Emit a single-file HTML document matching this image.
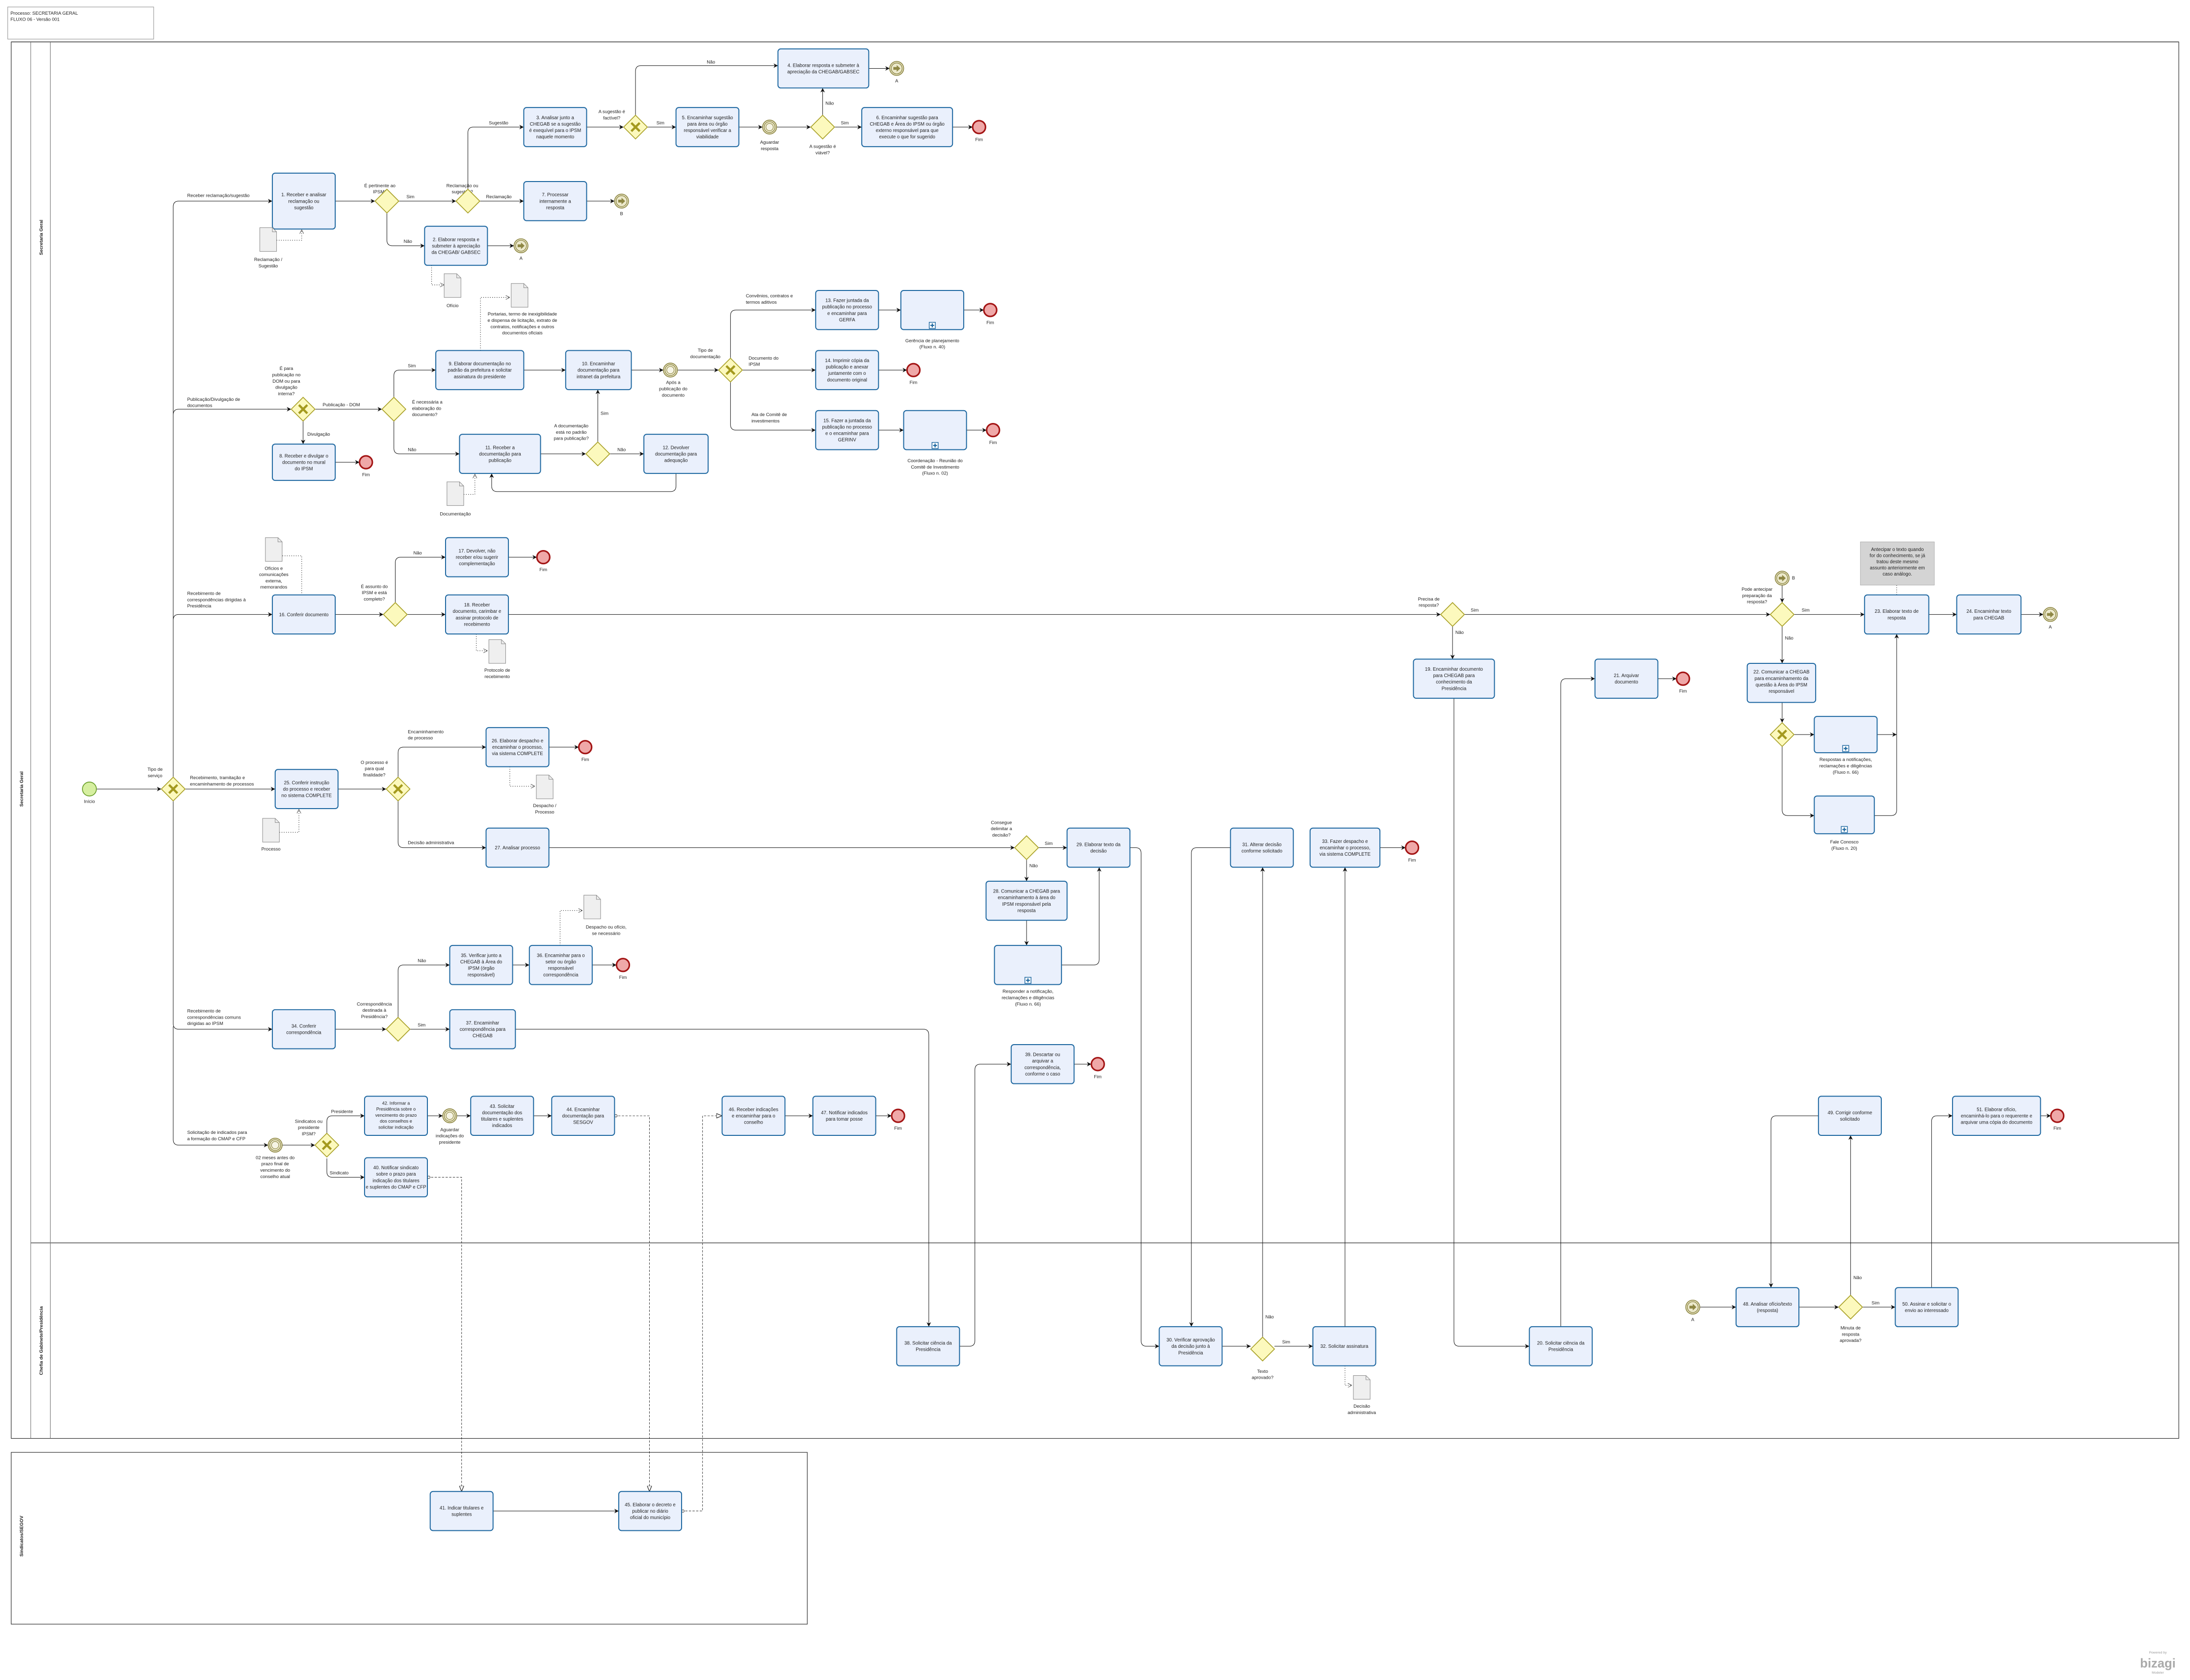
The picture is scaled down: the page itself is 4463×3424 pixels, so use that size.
<!DOCTYPE html>
<html><head><meta charset="utf-8">
<style>
html,body{margin:0;padding:0;background:#fff;}
svg{display:block;}
text{font-family:"Liberation Sans Narrow","Liberation Sans",sans-serif;fill:#222;}
.t{font-size:3.4px;text-anchor:middle;}
.l{font-size:3.3px;}
.lc{font-size:3.3px;text-anchor:middle;}
.task{fill:#eaf0fc;stroke:#1d67a0;stroke-width:0.7;}
.f{fill:none;stroke:#111;stroke-width:0.35;marker-end:url(#a);}
.m{fill:none;stroke:#111;stroke-width:0.3;stroke-dasharray:1.6,1;marker-end:url(#o);}
.as{fill:none;stroke:#222;stroke-width:0.4;stroke-dasharray:0.5,1.1;}
.gw{fill:#fcf9bd;stroke:#aaa22a;stroke-width:0.6;}
.gx{stroke:#a49a1e;stroke-width:1.6;}
.end{fill:#efa8a8;stroke:#a31414;stroke-width:1.1;}
.int{fill:#ece9cc;stroke:#8e8744;stroke-width:0.6;}
.doc{fill:#efefef;stroke:#888;stroke-width:0.35;}
.lane{fill:none;stroke:#222;stroke-width:0.4;}
</style></head>
<body>
<svg width="4463" height="3424" viewBox="0 0 1568 1203" xmlns="http://www.w3.org/2000/svg">
<defs>
<marker id="a" viewBox="0 0 10 10" refX="10" refY="5" markerWidth="3.2" markerHeight="3.2" markerUnits="userSpaceOnUse" orient="auto"><path d="M0,0 L10,5 L0,10 L3,5z" fill="#111"/></marker>
<marker id="o" viewBox="0 0 10 10" refX="10" refY="5" markerWidth="4" markerHeight="4" markerUnits="userSpaceOnUse" orient="auto"><path d="M0,1 L10,5 L0,9z" fill="#fff" stroke="#111" stroke-width="1"/></marker>
<marker id="v" viewBox="0 0 10 10" refX="10" refY="5" markerWidth="3" markerHeight="3" markerUnits="userSpaceOnUse" orient="auto"><path d="M0,0 L10,5 L0,10" fill="none" stroke="#333" stroke-width="1"/></marker>
<g id="gwd"><polygon points="0,-8.5 8.5,0 0,8.5 -8.5,0" class="gw"/></g>
<g id="gwx"><polygon points="0,-8.5 8.5,0 0,8.5 -8.5,0" class="gw"/><path d="M-3,-3 L3,3 M3,-3 L-3,3" class="gx"/></g>
<g id="fim"><circle r="4.6" class="end"/></g>
<g id="lnk"><circle r="5" class="int"/><circle r="3.9" fill="none" stroke="#8e8744" stroke-width="0.5"/><path d="M-2.4,-1 H0 V-2.4 L2.6,0 L0,2.4 V1 H-2.4z" fill="#8e8744"/></g>
<g id="tmr"><circle r="5" class="int"/><circle r="3.9" fill="none" stroke="#8e8744" stroke-width="0.5"/><circle r="2.6" fill="#f6f4e4" stroke="#8e8744" stroke-width="0.4"/></g>
<g id="dc"><path d="M0,0 H9 L12,3 V17 H0z" class="doc"/><path d="M9,0 V3 H12" fill="none" stroke="#888" stroke-width="0.35"/></g>
<g id="plus"><rect x="-2.2" y="-2.2" width="4.4" height="4.4" fill="#fff" stroke="#1d67a0" stroke-width="0.5"/><path d="M-1.4,0 H1.4 M0,-1.4 V1.4" stroke="#1d67a0" stroke-width="0.8"/></g>
</defs>

<!-- header -->
<rect x="5.5" y="5" width="104.5" height="23" fill="#fff" stroke="#999" stroke-width="0.4"/>
<text class="l" x="7.5" y="10.5">Processo: SECRETARIA GERAL</text>
<text class="l" x="7.5" y="15">FLUXO 06 - Versão 001</text>

<!-- pool 1 -->
<rect x="8" y="30" width="1552" height="1000" class="lane"/>
<line x1="8" y1="30" x2="1560" y2="30" stroke="#666" stroke-width="0.7"/>
<line x1="22" y1="30" x2="22" y2="1030" stroke="#666" stroke-width="0.35"/>
<line x1="36" y1="30" x2="36" y2="1030" stroke="#666" stroke-width="0.35"/>
<line x1="22" y1="890" x2="1560" y2="890" stroke="#777" stroke-width="0.7"/>
<text class="l" font-weight="bold" transform="translate(16.5,565) rotate(-90)" text-anchor="middle">Secretaria Geral</text>
<text class="l" font-weight="bold" transform="translate(30.5,170) rotate(-90)" text-anchor="middle">Secretaria Geral</text>
<text class="l" font-weight="bold" transform="translate(30.5,960) rotate(-90)" text-anchor="middle">Chefia de Gabinete/Presidência</text>
<!-- pool 2 -->
<rect x="8" y="1040" width="570" height="123" class="lane"/>
<text class="l" font-weight="bold" transform="translate(16.5,1100) rotate(-90)" text-anchor="middle">Sindicatos/SEGOV</text>

<!-- ========== FLOWS ========== -->
<!-- start -->
<path class="f" d="M69,565 H115.5"/>
<path class="f" d="M124,556.5 V148 Q124,144 128,144 H195"/>
<text class="l" x="134" y="141">Receber reclamação/sugestão</text>
<path class="f" d="M124,297 Q124,293 128,293 H208.5"/>
<text class="l" x="134" y="287">Publicação/Divulgação de</text><text class="l" x="134" y="291.5">documentos</text>
<path class="f" d="M124,444 Q124,440 128,440 H195"/>
<text class="l" x="134" y="426">Recebimento de</text><text class="l" x="134" y="430.5">correspondências dirigidas à</text><text class="l" x="134" y="435">Presidência</text>
<path class="f" d="M132.5,565 H197"/>
<text class="l" x="136" y="558">Recebimento, tramitação e</text><text class="l" x="136" y="562.5">encaminhamento de processos</text>
<text class="lc" x="111" y="552">Tipo de</text><text class="lc" x="111" y="556.5">serviço</text>
<path class="f" d="M124,573.5 V733 Q124,737 128,737 H195"/>
<text class="l" x="134" y="725">Recebimento de</text><text class="l" x="134" y="729.5">correspondências comuns</text><text class="l" x="134" y="734">dirigidas ao IPSM</text>
<path class="f" d="M124,735 V816 Q124,820 128,820 H192"/>
<text class="l" x="134" y="812">Solicitação de indicados para</text><text class="l" x="134" y="816.5">a formação do CMAP e CFP</text>

<!-- section 1 -->
<path class="f" d="M240,144 H268.5"/>
<text class="lc" x="272" y="134">É pertinente ao</text><text class="lc" x="272" y="138.5">IPSM?</text>
<path class="f" d="M285.5,144 H326.5"/><text class="l" x="291" y="142">Sim</text>
<path class="f" d="M277,152.5 V172 Q277,176 281,176 H304"/><text class="l" x="289" y="174">Não</text>
<text class="lc" x="331" y="134">Reclamação ou</text><text class="lc" x="331" y="138.5">sugestão?</text>
<path class="f" d="M335,135.5 V95 Q335,91 339,91 H375"/><text class="l" x="350" y="89">Sugestão</text>
<path class="f" d="M343.5,144 H375"/><text class="l" x="348" y="142">Reclamação</text>
<path class="f" d="M420,91 H446.5"/>
<text class="lc" x="438" y="81">A sugestão é</text><text class="lc" x="438" y="85.5">factível?</text>
<path class="f" d="M455,82.5 V51 Q455,47 459,47 H557"/><text class="l" x="506" y="45.5">Não</text>
<path class="f" d="M463.5,91 H484"/><text class="l" x="470" y="89">Sim</text>
<path class="f" d="M529,91 H546"/>
<path class="f" d="M556,91 H580.5"/>
<text class="lc" x="551" y="103">Aguardar</text><text class="lc" x="551" y="107.5">resposta</text>
<path class="f" d="M589,82.5 V63"/><text class="l" x="591" y="75">Não</text>
<text class="lc" x="589" y="106">A sugestão é</text><text class="lc" x="589" y="110.5">viável?</text>
<path class="f" d="M597.5,91 H617"/><text class="l" x="602" y="89">Sim</text>
<path class="f" d="M682,91 H696.4"/>
<path class="f" d="M622,49 H637"/>
<path class="f" d="M420,144 H440"/>
<path class="f" d="M349,176 H368"/>
<path class="as" d="M198,172 H216 V164.5" marker-end="url(#v)"/>
<path class="as" d="M309,190 V204 H318" marker-end="url(#v)"/>

<!-- section 2: publication -->
<text class="lc" x="205" y="265">É para</text><text class="lc" x="205" y="269.5">publicação no</text><text class="lc" x="205" y="274">DOM ou para</text><text class="lc" x="205" y="278.5">divulgação</text><text class="lc" x="205" y="283">interna?</text>
<path class="f" d="M225.5,293 H273.5"/><text class="l" x="231" y="291">Publicação - DOM</text>
<path class="f" d="M217,301.5 V318"/><text class="l" x="220" y="312">Divulgação</text>
<path class="f" d="M240,331 H257.4"/>
<path class="f" d="M282,284.5 V269 Q282,265 286,265 H312"/><text class="l" x="292" y="263">Sim</text>
<path class="f" d="M282,301.5 V321 Q282,325 286,325 H329"/><text class="l" x="292" y="323">Não</text>
<text class="l" x="295" y="289">É necessária a</text><text class="l" x="295" y="293.5">elaboração do</text><text class="l" x="295" y="298">documento?</text>
<path class="f" d="M375,265 H405"/>
<path class="f" d="M452,265 H475"/>
<path class="f" d="M485,265 H514.5"/>
<text class="lc" x="482" y="275">Após a</text><text class="lc" x="482" y="279.5">publicação do</text><text class="lc" x="482" y="284">documento</text>
<path class="f" d="M387,325 H419.5"/>
<text class="lc" x="409" y="306">A documentação</text><text class="lc" x="409" y="310.5">está no padrão</text><text class="lc" x="409" y="315">para publicação?</text>
<path class="f" d="M428,316.5 V279"/><text class="l" x="430" y="297">Sim</text>
<path class="f" d="M436.5,325 H461"/><text class="l" x="442" y="323">Não</text>
<path class="f" d="M484,339 V348 Q484,352 480,352 H356 Q352,352 352,348 V339"/>
<text class="lc" x="505" y="252">Tipo de</text><text class="lc" x="505" y="256.5">documentação</text>
<path class="f" d="M523,256.5 V226 Q523,222 527,222 H584"/><text class="l" x="534" y="213">Convênios, contratos e</text><text class="l" x="534" y="217.5">termos aditivos</text>
<path class="f" d="M531.5,265 H584"/><text class="l" x="536" y="257.5">Documento do</text><text class="l" x="536" y="262">IPSM</text>
<path class="f" d="M523,273.5 V304 Q523,308 527,308 H584"/><text class="l" x="538" y="298">Ata de Comitê de</text><text class="l" x="538" y="302.5">investimentos</text>
<path class="f" d="M629,222 H645"/><path class="f" d="M690,222 H704.4"/>
<path class="f" d="M629,265 H649.4"/>
<path class="f" d="M629,308 H647"/><path class="f" d="M692,308 H706.4"/>
<path class="as" d="M344,251 V213 H365" marker-end="url(#v)"/>
<path class="as" d="M332,354 H340 V339.5" marker-end="url(#v)"/>

<!-- section 3: correspondence to presidency -->
<path class="f" d="M240,440 H274.5"/>
<text class="lc" x="268" y="421">É assunto do</text><text class="lc" x="268" y="425.5">IPSM e está</text><text class="lc" x="268" y="430">completo?</text>
<path class="f" d="M283,431.5 V403 Q283,399 287,399 H319"/><text class="l" x="296" y="397">Não</text>
<path class="f" d="M364,399 H384.4"/>
<path class="f" d="M291.5,440 H319"/>
<path class="f" d="M364,440 H1031.5"/>
<text class="lc" x="1023" y="430">Precisa de</text><text class="lc" x="1023" y="434.5">resposta?</text>
<path class="f" d="M1048.5,440 H1267.5"/><text class="l" x="1053" y="438">Sim</text>
<path class="f" d="M1040,448.5 V472"/><text class="l" x="1042" y="454">Não</text>
<path class="f" d="M1041,500 V960 Q1041,964 1045,964 H1095"/>
<path class="f" d="M1117.5,950 V490 Q1117.5,486 1121.5,486 H1142"/>
<path class="f" d="M1187,486 H1200.4"/>
<path class="f" d="M1276,419 V431.5"/>
<text class="lc" x="1258" y="423">Pode antecipar</text><text class="lc" x="1258" y="427.5">preparação da</text><text class="lc" x="1258" y="432">resposta?</text>
<path class="f" d="M1284.5,440 H1335"/><text class="l" x="1290" y="438">Sim</text>
<path class="f" d="M1276,448.5 V475"/><text class="l" x="1278" y="458">Não</text>
<path class="f" d="M1381,440 H1401"/>
<path class="f" d="M1447,440 H1463"/>
<path class="f" d="M1276,503 V517.5"/>
<path class="f" d="M1284.5,526 H1299"/>
<path class="f" d="M1276,534.5 V580 Q1276,584 1280,584 H1299"/>
<path class="f" d="M1344,526 H1358"/>
<path class="f" d="M1342,584 H1354 Q1358,584 1358,580 V454"/>
<path class="as" d="M1358,419 V426"/>
<path class="as" d="M201,388 V398 H216 V426"/>
<path class="as" d="M341,454 V466 H349" marker-end="url(#v)"/>

<!-- section 4: processes -->
<path class="f" d="M242,565 H276.5"/>
<text class="lc" x="268" y="547">O processo é</text><text class="lc" x="268" y="551.5">para qual</text><text class="lc" x="268" y="556">finalidade?</text>
<path class="f" d="M285,556.5 V539 Q285,535 289,535 H348"/><text class="l" x="292" y="525">Encaminhamento</text><text class="l" x="292" y="529.5">de processo</text>
<path class="f" d="M393,535 H414.4"/>
<path class="f" d="M285,573.5 V603 Q285,607 289,607 H348"/><text class="l" x="292" y="604.5">Decisão administrativa</text>
<path class="f" d="M393,607 H726.5"/>
<text class="lc" x="717" y="590">Consegue</text><text class="lc" x="717" y="594.5">delimitar a</text><text class="lc" x="717" y="599">decisão?</text>
<path class="f" d="M743.5,607 H764"/><text class="l" x="748" y="605">Sim</text>
<path class="f" d="M735,615.5 V631"/><text class="l" x="737" y="621">Não</text>
<path class="f" d="M735,659 V677"/>
<path class="f" d="M760,691 H783 Q787,691 787,687 V621"/>
<path class="f" d="M809,607 H813 Q817,607 817,611 V960 Q817,964 821,964 H830"/>
<path class="f" d="M875,964 H895.5"/>
<text class="lc" x="904" y="983">Texto</text><text class="lc" x="904" y="987.5">aprovado?</text>
<path class="f" d="M904,957.5 V621"/><text class="l" x="906" y="944">Não</text>
<path class="f" d="M881,607 H857 Q853,607 853,611 V950"/>
<path class="f" d="M912.5,964 H940"/><text class="l" x="918" y="962">Sim</text>
<path class="f" d="M963,950 V621"/>
<path class="f" d="M988,607 H1006.4"/>
<path class="as" d="M963,978 V992 H968" marker-end="url(#v)"/>
<path class="as" d="M365,549 V563 H383" marker-end="url(#v)"/>
<path class="as" d="M200,596 H214 V579.5" marker-end="url(#v)"/>

<!-- section 5: common correspondence -->
<path class="f" d="M240,737 H276.5"/>
<text class="lc" x="268" y="720">Correspondência</text><text class="lc" x="268" y="724.5">destinada à</text><text class="lc" x="268" y="729">Presidência?</text>
<path class="f" d="M285,728.5 V695 Q285,691 289,691 H322"/><text class="l" x="299" y="689">Não</text>
<path class="f" d="M367,691 H379"/>
<path class="f" d="M424,691 H441.4"/>
<path class="as" d="M401,677 V652 H417" marker-end="url(#v)"/>
<path class="f" d="M293.5,737 H322"/><text class="l" x="299" y="735">Sim</text>
<path class="f" d="M369,737 H661 Q665,737 665,741 V950"/>
<path class="f" d="M687,964 H694 Q698,964 698,960 V766 Q698,762 702,762 H724"/>
<path class="f" d="M769,762 H781.4"/>

<!-- section 6: indicados -->
<path class="f" d="M202,820 H225.5"/>
<text class="lc" x="197" y="830">02 meses antes do</text><text class="lc" x="197" y="834.5">prazo final de</text><text class="lc" x="197" y="839">vencimento do</text><text class="lc" x="197" y="843.5">conselho atual</text>
<text class="lc" x="221" y="804">Sindicatos ou</text><text class="lc" x="221" y="808.5">presidente</text><text class="lc" x="221" y="813">IPSM?</text>
<path class="f" d="M234,811.5 V803 Q234,799 238,799 H261"/><text class="l" x="237" y="797">Presidente</text>
<path class="f" d="M234,829.5 V839 Q234,843 238,843 H261"/><text class="l" x="236" y="841">Sindicato</text>
<path class="f" d="M306,799 H317"/>
<path class="f" d="M327,799 H337"/>
<text class="lc" x="322" y="810">Aguardar</text><text class="lc" x="322" y="814.5">indicações do</text><text class="lc" x="322" y="819">presidente</text>
<path class="f" d="M382,799 H395"/>
<path class="m" d="M440,799 H465 V1068"/>
<circle cx="441" cy="799" r="0.9" fill="#fff" stroke="#111" stroke-width="0.3"/>
<path class="m" d="M306,843 H330.5 V1068"/>
<circle cx="307" cy="843" r="0.9" fill="#fff" stroke="#111" stroke-width="0.3"/>
<path class="f" d="M353,1082 H443"/>
<path class="m" d="M488,1082 H503 V799 H517"/>
<circle cx="489" cy="1082" r="0.9" fill="#fff" stroke="#111" stroke-width="0.3"/>
<path class="f" d="M562,799 H582"/>
<path class="f" d="M627,799 H638.4"/>

<!-- section 7: final -->
<path class="f" d="M1217,936 H1243"/>
<path class="f" d="M1288,936 H1316.5"/>
<text class="lc" x="1325" y="952">Minuta de</text><text class="lc" x="1325" y="956.5">resposta</text><text class="lc" x="1325" y="961">aprovada?</text>
<path class="f" d="M1325,927.5 V813"/><text class="l" x="1327" y="916">Não</text>
<path class="f" d="M1302,799 H1272 Q1268,799 1268,803 V922"/>
<path class="f" d="M1333.5,936 H1357"/><text class="l" x="1340" y="934">Sim</text>
<path class="f" d="M1383,922 V803 Q1383,799 1387,799 H1398"/>
<path class="f" d="M1461,799 H1468.4"/>

<!-- ========== NODES ========== -->
<rect class="task" x="195" y="124" width="45" height="40" rx="2"/>
<text class="t" x="217.5" y="140.6"><tspan x="217.5">1. Receber e analisar</tspan><tspan x="217.5" dy="4.6">reclamação ou</tspan><tspan x="217.5" dy="4.6">sugestão</tspan></text>
<rect class="task" x="304" y="162" width="45" height="28" rx="2"/>
<text class="t" x="326.5" y="172.6"><tspan x="326.5">2. Elaborar resposta e</tspan><tspan x="326.5" dy="4.6">submeter à apreciação</tspan><tspan x="326.5" dy="4.6">da CHEGAB/ GABSEC</tspan></text>
<rect class="task" x="375" y="77" width="45" height="28" rx="2"/>
<text class="t" x="397.5" y="85.3"><tspan x="397.5">3. Analisar junto a</tspan><tspan x="397.5" dy="4.6">CHEGAB se a sugestão</tspan><tspan x="397.5" dy="4.6">é exequível para o IPSM</tspan><tspan x="397.5" dy="4.6">naquele momento</tspan></text>
<rect class="task" x="557" y="35" width="65" height="28" rx="2"/>
<text class="t" x="589.5" y="47.9"><tspan x="589.5">4. Elaborar resposta e submeter à</tspan><tspan x="589.5" dy="4.6">apreciação da CHEGAB/GABSEC</tspan></text>
<rect class="task" x="484" y="77" width="45" height="28" rx="2"/>
<text class="t" x="506.5" y="85.3"><tspan x="506.5">5. Encaminhar sugestão</tspan><tspan x="506.5" dy="4.6">para área ou órgão</tspan><tspan x="506.5" dy="4.6">responsável verificar a</tspan><tspan x="506.5" dy="4.6">viabilidade</tspan></text>
<rect class="task" x="617" y="77" width="65" height="28" rx="2"/>
<text class="t" x="649.5" y="85.3"><tspan x="649.5">6. Encaminhar sugestão para</tspan><tspan x="649.5" dy="4.6">CHEGAB e Área do IPSM ou órgão</tspan><tspan x="649.5" dy="4.6">externo responsável para que</tspan><tspan x="649.5" dy="4.6">execute o que for sugerido</tspan></text>
<rect class="task" x="375" y="130" width="45" height="28" rx="2"/>
<text class="t" x="397.5" y="140.6"><tspan x="397.5">7. Processar</tspan><tspan x="397.5" dy="4.6">internamente a</tspan><tspan x="397.5" dy="4.6">resposta</tspan></text>
<rect class="task" x="195" y="318" width="45" height="26" rx="2"/>
<text class="t" x="217.5" y="327.6"><tspan x="217.5">8. Receber e divulgar o</tspan><tspan x="217.5" dy="4.6">documento no mural</tspan><tspan x="217.5" dy="4.6">do IPSM</tspan></text>
<rect class="task" x="312" y="251" width="63" height="28" rx="2"/>
<text class="t" x="343.5" y="261.6"><tspan x="343.5">9. Elaborar documentação no</tspan><tspan x="343.5" dy="4.6">padrão da prefeitura e solicitar</tspan><tspan x="343.5" dy="4.6">assinatura do presidente</tspan></text>
<rect class="task" x="405" y="251" width="47" height="28" rx="2"/>
<text class="t" x="428.5" y="261.6"><tspan x="428.5">10. Encaminhar</tspan><tspan x="428.5" dy="4.6">documentação para</tspan><tspan x="428.5" dy="4.6">intranet da prefeitura</tspan></text>
<rect class="task" x="329" y="311" width="58" height="28" rx="2"/>
<text class="t" x="358" y="321.6"><tspan x="358">11. Receber a</tspan><tspan x="358" dy="4.6">documentação para</tspan><tspan x="358" dy="4.6">publicação</tspan></text>
<rect class="task" x="461" y="311" width="46" height="28" rx="2"/>
<text class="t" x="484" y="321.6"><tspan x="484">12. Devolver</tspan><tspan x="484" dy="4.6">documentação para</tspan><tspan x="484" dy="4.6">adequação</tspan></text>
<rect class="task" x="584" y="208" width="45" height="28" rx="2"/>
<text class="t" x="606.5" y="216.3"><tspan x="606.5">13. Fazer juntada da</tspan><tspan x="606.5" dy="4.6">publicação no processo</tspan><tspan x="606.5" dy="4.6">e encaminhar para</tspan><tspan x="606.5" dy="4.6">GERFA</tspan></text>
<rect class="task" x="645" y="208" width="45" height="28" rx="2"/><use href="#plus" x="667.5" y="233"/>
<text class="lc" x="667.5" y="245">Gerência de planejamento</text><text class="lc" x="667.5" y="249.5">(Fluxo n. 40)</text>
<rect class="task" x="584" y="251" width="45" height="28" rx="2"/>
<text class="t" x="606.5" y="259.3"><tspan x="606.5">14. Imprimir cópia da</tspan><tspan x="606.5" dy="4.6">publicação e anexar</tspan><tspan x="606.5" dy="4.6">juntamente com o</tspan><tspan x="606.5" dy="4.6">documento original</tspan></text>
<rect class="task" x="584" y="294" width="45" height="28" rx="2"/>
<text class="t" x="606.5" y="302.3"><tspan x="606.5">15. Fazer a juntada da</tspan><tspan x="606.5" dy="4.6">publicação no processo</tspan><tspan x="606.5" dy="4.6">e o encaminhar para</tspan><tspan x="606.5" dy="4.6">GERINV</tspan></text>
<rect class="task" x="647" y="294" width="45" height="28" rx="2"/><use href="#plus" x="669.5" y="319"/>
<text class="lc" x="669.5" y="331">Coordenação - Reunião do</text><text class="lc" x="669.5" y="335.5">Comitê de Investimento</text><text class="lc" x="669.5" y="340">(Fluxo n. 02)</text>
<rect class="task" x="195" y="426" width="45" height="28" rx="2"/>
<text class="t" x="217.5" y="441.2">16. Conferir documento</text>
<rect class="task" x="319" y="385" width="45" height="28" rx="2"/>
<text class="t" x="341.5" y="395.6"><tspan x="341.5">17. Devolver, não</tspan><tspan x="341.5" dy="4.6">receber e/ou sugerir</tspan><tspan x="341.5" dy="4.6">complementação</tspan></text>
<rect class="task" x="319" y="426" width="45" height="28" rx="2"/>
<text class="t" x="341.5" y="434.3"><tspan x="341.5">18. Receber</tspan><tspan x="341.5" dy="4.6">documento, carimbar e</tspan><tspan x="341.5" dy="4.6">assinar protocolo de</tspan><tspan x="341.5" dy="4.6">recebimento</tspan></text>
<rect class="task" x="1012" y="472" width="58" height="28" rx="2"/>
<text class="t" x="1041" y="480.3"><tspan x="1041">19. Encaminhar documento</tspan><tspan x="1041" dy="4.6">para CHEGAB para</tspan><tspan x="1041" dy="4.6">conhecimento da</tspan><tspan x="1041" dy="4.6">Presidência</tspan></text>
<rect class="task" x="1095" y="950" width="45" height="28" rx="2"/>
<text class="t" x="1117.5" y="962.9"><tspan x="1117.5">20. Solicitar ciência da</tspan><tspan x="1117.5" dy="4.6">Presidência</tspan></text>
<rect class="task" x="1142" y="472" width="45" height="28" rx="2"/>
<text class="t" x="1164.5" y="484.9"><tspan x="1164.5">21. Arquivar</tspan><tspan x="1164.5" dy="4.6">documento</tspan></text>
<rect class="task" x="1251" y="475" width="49" height="28" rx="2"/>
<text class="t" x="1275.5" y="482.3"><tspan x="1275.5">22. Comunicar a CHEGAB</tspan><tspan x="1275.5" dy="4.6">para encaminhamento da</tspan><tspan x="1275.5" dy="4.6">questão à Área do IPSM</tspan><tspan x="1275.5" dy="4.6">responsável</tspan></text>
<rect class="task" x="1335" y="426" width="46" height="28" rx="2"/>
<text class="t" x="1358" y="438.9"><tspan x="1358">23. Elaborar texto de</tspan><tspan x="1358" dy="4.6">resposta</tspan></text>
<rect class="task" x="1401" y="426" width="46" height="28" rx="2"/>
<text class="t" x="1424" y="438.9"><tspan x="1424">24. Encaminhar texto</tspan><tspan x="1424" dy="4.6">para CHEGAB</tspan></text>
<rect class="task" x="1299" y="513" width="45" height="26" rx="2"/><use href="#plus" x="1321.5" y="536"/>
<text class="lc" x="1321.5" y="545">Respostas a notificações,</text><text class="lc" x="1321.5" y="549.5">reclamações e diligências</text><text class="lc" x="1321.5" y="554">(Fluxo n. 66)</text>
<rect class="task" x="1299" y="570" width="43" height="27" rx="2"/><use href="#plus" x="1320.5" y="594"/>
<text class="lc" x="1320.5" y="604">Fale Conosco</text><text class="lc" x="1320.5" y="608.5">(Fluxo n. 20)</text>
<rect x="1332" y="388" width="53" height="31" fill="#d4d4d4" stroke="#aaa" stroke-width="0.3"/>
<text class="t" x="1358.5" y="394.5"><tspan x="1358.5">Antecipar o texto quando</tspan><tspan x="1358.5" dy="4.4">for do conhecimento, se já</tspan><tspan x="1358.5" dy="4.4">tratou deste mesmo</tspan><tspan x="1358.5" dy="4.4">assunto anteriormente em</tspan><tspan x="1358.5" dy="4.4">caso análogo.</tspan></text>
<rect class="task" x="197" y="551" width="45" height="28" rx="2"/>
<text class="t" x="219.5" y="561.6"><tspan x="219.5">25. Conferir instrução</tspan><tspan x="219.5" dy="4.6">do processo e receber</tspan><tspan x="219.5" dy="4.6">no sistema COMPLETE</tspan></text>
<rect class="task" x="348" y="521" width="45" height="28" rx="2"/>
<text class="t" x="370.5" y="531.6"><tspan x="370.5">26. Elaborar despacho e</tspan><tspan x="370.5" dy="4.6">encaminhar o processo,</tspan><tspan x="370.5" dy="4.6">via sistema COMPLETE</tspan></text>
<rect class="task" x="348" y="593" width="45" height="28" rx="2"/>
<text class="t" x="370.5" y="608.2">27. Analisar processo</text>
<rect class="task" x="706" y="631" width="58" height="28" rx="2"/>
<text class="t" x="735" y="639.3"><tspan x="735">28. Comunicar a CHEGAB para</tspan><tspan x="735" dy="4.6">encaminhamento à área do</tspan><tspan x="735" dy="4.6">IPSM responsável pela</tspan><tspan x="735" dy="4.6">resposta</tspan></text>
<rect class="task" x="712" y="677" width="48" height="28" rx="2"/><use href="#plus" x="736" y="702"/>
<text class="lc" x="736" y="711">Responder a notificação,</text><text class="lc" x="736" y="715.5">reclamações e diligências</text><text class="lc" x="736" y="720">(Fluxo n. 66)</text>
<rect class="task" x="764" y="593" width="45" height="28" rx="2"/>
<text class="t" x="786.5" y="605.9"><tspan x="786.5">29. Elaborar texto da</tspan><tspan x="786.5" dy="4.6">decisão</tspan></text>
<rect class="task" x="830" y="950" width="45" height="28" rx="2"/>
<text class="t" x="852.5" y="960.6"><tspan x="852.5">30. Verificar aprovação</tspan><tspan x="852.5" dy="4.6">da decisão junto à</tspan><tspan x="852.5" dy="4.6">Presidência</tspan></text>
<rect class="task" x="881" y="593" width="45" height="28" rx="2"/>
<text class="t" x="903.5" y="605.9"><tspan x="903.5">31. Alterar decisão</tspan><tspan x="903.5" dy="4.6">conforme solicitado</tspan></text>
<rect class="task" x="940" y="950" width="45" height="28" rx="2"/>
<text class="t" x="962.5" y="965.2">32. Solicitar assinatura</text>
<rect class="task" x="938" y="593" width="50" height="28" rx="2"/>
<text class="t" x="963" y="603.6"><tspan x="963">33. Fazer despacho e</tspan><tspan x="963" dy="4.6">encaminhar o processo,</tspan><tspan x="963" dy="4.6">via sistema COMPLETE</tspan></text>
<rect class="task" x="195" y="723" width="45" height="28" rx="2"/>
<text class="t" x="217.5" y="735.9"><tspan x="217.5">34. Conferir</tspan><tspan x="217.5" dy="4.6">correspondência</tspan></text>
<rect class="task" x="322" y="677" width="45" height="28" rx="2"/>
<text class="t" x="344.5" y="685.3"><tspan x="344.5">35. Verificar junto a</tspan><tspan x="344.5" dy="4.6">CHEGAB à Área do</tspan><tspan x="344.5" dy="4.6">IPSM (órgão</tspan><tspan x="344.5" dy="4.6">responsável)</tspan></text>
<rect class="task" x="379" y="677" width="45" height="28" rx="2"/>
<text class="t" x="401.5" y="685.3"><tspan x="401.5">36. Encaminhar para o</tspan><tspan x="401.5" dy="4.6">setor ou órgão</tspan><tspan x="401.5" dy="4.6">responsável</tspan><tspan x="401.5" dy="4.6">correspondência</tspan></text>
<rect class="task" x="322" y="723" width="47" height="28" rx="2"/>
<text class="t" x="345.5" y="733.6"><tspan x="345.5">37. Encaminhar</tspan><tspan x="345.5" dy="4.6">correspondência para</tspan><tspan x="345.5" dy="4.6">CHEGAB</tspan></text>
<rect class="task" x="642" y="950" width="45" height="28" rx="2"/>
<text class="t" x="664.5" y="962.9"><tspan x="664.5">38. Solicitar ciência da</tspan><tspan x="664.5" dy="4.6">Presidência</tspan></text>
<rect class="task" x="724" y="748" width="45" height="28" rx="2"/>
<text class="t" x="746.5" y="756.3"><tspan x="746.5">39. Descartar ou</tspan><tspan x="746.5" dy="4.6">arquivar a</tspan><tspan x="746.5" dy="4.6">correspondência,</tspan><tspan x="746.5" dy="4.6">conforme o caso</tspan></text>
<rect class="task" x="261" y="829" width="45" height="28" rx="2"/>
<text class="t" x="283.5" y="837.3"><tspan x="283.5">40. Notificar sindicato</tspan><tspan x="283.5" dy="4.6">sobre o prazo para</tspan><tspan x="283.5" dy="4.6">indicação dos titulares</tspan><tspan x="283.5" dy="4.6">e suplentes do CMAP e CFP</tspan></text>
<rect class="task" x="308" y="1068" width="45" height="28" rx="2"/>
<text class="t" x="330.5" y="1080.9"><tspan x="330.5">41. Indicar titulares e</tspan><tspan x="330.5" dy="4.6">suplentes</tspan></text>
<rect class="task" x="261" y="785" width="45" height="28" rx="2"/>
<text class="t" x="283.5" y="791" style="font-size:3.2px"><tspan x="283.5">42. Informar a</tspan><tspan x="283.5" dy="4.3">Presidência sobre o</tspan><tspan x="283.5" dy="4.3">vencimento do prazo</tspan><tspan x="283.5" dy="4.3">dos conselhos e</tspan><tspan x="283.5" dy="4.3">solicitar indicação</tspan></text>
<rect class="task" x="337" y="785" width="45" height="28" rx="2"/>
<text class="t" x="359.5" y="793.3"><tspan x="359.5">43. Solicitar</tspan><tspan x="359.5" dy="4.6">documentação dos</tspan><tspan x="359.5" dy="4.6">titulares e suplentes</tspan><tspan x="359.5" dy="4.6">indicados</tspan></text>
<rect class="task" x="395" y="785" width="45" height="28" rx="2"/>
<text class="t" x="417.5" y="795.6"><tspan x="417.5">44. Encaminhar</tspan><tspan x="417.5" dy="4.6">documentação para</tspan><tspan x="417.5" dy="4.6">SESGOV</tspan></text>
<rect class="task" x="443" y="1068" width="45" height="28" rx="2"/>
<text class="t" x="465.5" y="1078.6"><tspan x="465.5">45. Elaborar o decreto e</tspan><tspan x="465.5" dy="4.6">publicar no diário</tspan><tspan x="465.5" dy="4.6">oficial do município</tspan></text>
<rect class="task" x="517" y="785" width="45" height="28" rx="2"/>
<text class="t" x="539.5" y="795.6"><tspan x="539.5">46. Receber indicações</tspan><tspan x="539.5" dy="4.6">e encaminhar para o</tspan><tspan x="539.5" dy="4.6">conselho</tspan></text>
<rect class="task" x="582" y="785" width="45" height="28" rx="2"/>
<text class="t" x="604.5" y="797.9"><tspan x="604.5">47. Notificar indicados</tspan><tspan x="604.5" dy="4.6">para tomar posse</tspan></text>
<rect class="task" x="1243" y="922" width="45" height="28" rx="2"/>
<text class="t" x="1265.5" y="934.9"><tspan x="1265.5">48. Analisar ofício/texto</tspan><tspan x="1265.5" dy="4.6">(resposta)</tspan></text>
<rect class="task" x="1302" y="785" width="45" height="28" rx="2"/>
<text class="t" x="1324.5" y="797.9"><tspan x="1324.5">49. Corrigir conforme</tspan><tspan x="1324.5" dy="4.6">solicitado</tspan></text>
<rect class="task" x="1357" y="922" width="45" height="28" rx="2"/>
<text class="t" x="1379.5" y="934.9"><tspan x="1379.5">50. Assinar e solicitar o</tspan><tspan x="1379.5" dy="4.6">envio ao interessado</tspan></text>
<rect class="task" x="1398" y="785" width="63" height="28" rx="2"/>
<text class="t" x="1429.5" y="795.6"><tspan x="1429.5">51. Elaborar ofício,</tspan><tspan x="1429.5" dy="4.6">encaminhá-lo para o requerente e</tspan><tspan x="1429.5" dy="4.6">arquivar uma cópia do documento</tspan></text>

<!-- gateways -->
<use href="#gwx" x="124" y="565"/>
<use href="#gwd" x="277" y="144"/>
<use href="#gwd" x="335" y="144"/>
<use href="#gwx" x="455" y="91"/>
<use href="#gwd" x="589" y="91"/>
<use href="#gwx" x="217" y="293"/>
<use href="#gwd" x="282" y="293"/>
<use href="#gwd" x="428" y="325"/>
<use href="#gwx" x="523" y="265"/>
<use href="#gwd" x="283" y="440"/>
<use href="#gwd" x="1040" y="440"/>
<use href="#gwd" x="1276" y="440"/>
<use href="#gwx" x="1276" y="526"/>
<use href="#gwx" x="285" y="565"/>
<use href="#gwd" x="735" y="607"/>
<use href="#gwd" x="904" y="966"/>
<use href="#gwd" x="285" y="737"/>
<use href="#gwx" x="234" y="820"/>
<use href="#gwd" x="1325" y="936"/>

<!-- events -->
<circle cx="64" cy="565" r="5" fill="#d6efa0" stroke="#6a9f2a" stroke-width="0.6"/>
<text class="lc" x="64" y="575">Início</text>
<use href="#fim" x="701" y="91"/><text class="lc" x="701" y="101">Fim</text>
<use href="#fim" x="262" y="331"/><text class="lc" x="262" y="341">Fim</text>
<use href="#fim" x="709" y="222"/><text class="lc" x="709" y="232">Fim</text>
<use href="#fim" x="654" y="265"/><text class="lc" x="654" y="275">Fim</text>
<use href="#fim" x="711" y="308"/><text class="lc" x="711" y="318">Fim</text>
<use href="#fim" x="389" y="399"/><text class="lc" x="389" y="409">Fim</text>
<use href="#fim" x="419" y="535"/><text class="lc" x="419" y="545">Fim</text>
<use href="#fim" x="446" y="691"/><text class="lc" x="446" y="701">Fim</text>
<use href="#fim" x="786" y="762"/><text class="lc" x="786" y="772">Fim</text>
<use href="#fim" x="643" y="799"/><text class="lc" x="643" y="809">Fim</text>
<use href="#fim" x="1011" y="607"/><text class="lc" x="1011" y="617">Fim</text>
<use href="#fim" x="1205" y="486"/><text class="lc" x="1205" y="496">Fim</text>
<use href="#fim" x="1473" y="799"/><text class="lc" x="1473" y="809">Fim</text>
<use href="#lnk" x="373" y="176"/><text class="lc" x="373" y="186">A</text>
<use href="#lnk" x="642" y="49"/><text class="lc" x="642" y="59">A</text>
<use href="#lnk" x="445" y="144"/><text class="lc" x="445" y="154">B</text>
<use href="#lnk" x="1468" y="440"/><text class="lc" x="1468" y="450">A</text>
<use href="#lnk" x="1276" y="414"/><text class="l" x="1283" y="415">B</text>
<use href="#lnk" x="1212" y="936"/><text class="lc" x="1212" y="946">A</text>
<use href="#tmr" x="551" y="91"/>
<use href="#tmr" x="480" y="265"/>
<use href="#tmr" x="322" y="799"/>
<use href="#tmr" x="197" y="820"/>

<!-- data objects -->
<use href="#dc" x="186" y="163"/><text class="lc" x="192" y="187">Reclamação /</text><text class="lc" x="192" y="191.5">Sugestão</text>
<use href="#dc" x="318" y="196"/><text class="lc" x="324" y="220">Ofício</text>
<use href="#dc" x="366" y="203"/>
<text class="lc" x="374" y="226">Portarias, termo de inexigibilidade</text><text class="lc" x="374" y="230.5">e dispensa de licitação, extrato de</text><text class="lc" x="374" y="235">contratos, notificações e outros</text><text class="lc" x="374" y="239.5">documentos oficiais</text>
<use href="#dc" x="320" y="345"/><text class="lc" x="326" y="369">Documentação</text>
<use href="#dc" x="190" y="385"/>
<text class="lc" x="196" y="408">Ofícios e</text><text class="lc" x="196" y="412.5">comunicações</text><text class="lc" x="196" y="417">externa,</text><text class="lc" x="196" y="421.5">memorandos</text>
<use href="#dc" x="350" y="458"/><text class="lc" x="356" y="481">Protocolo de</text><text class="lc" x="356" y="485.5">recebimento</text>
<use href="#dc" x="384" y="555"/><text class="lc" x="390" y="578">Despacho /</text><text class="lc" x="390" y="582.5">Processo</text>
<use href="#dc" x="188" y="586"/><text class="lc" x="194" y="609">Processo</text>
<use href="#dc" x="418" y="641"/><text class="lc" x="434" y="665">Despacho ou ofício,</text><text class="lc" x="434" y="669.5">se necessário</text>
<use href="#dc" x="969" y="985"/><text class="lc" x="975" y="1008">Decisão</text><text class="lc" x="975" y="1012.5">administrativa</text>

<!-- logo -->
<text x="1545" y="1184" style="font-size:2.4px;fill:#999" text-anchor="middle">Powered by</text>
<text x="1545" y="1194" style="font-size:9px;fill:#aaa;font-weight:bold" text-anchor="middle">bizagi</text>
<text x="1545" y="1198.5" style="font-size:2.4px;fill:#999" text-anchor="middle">Modeler</text>
</svg>
</body></html>
